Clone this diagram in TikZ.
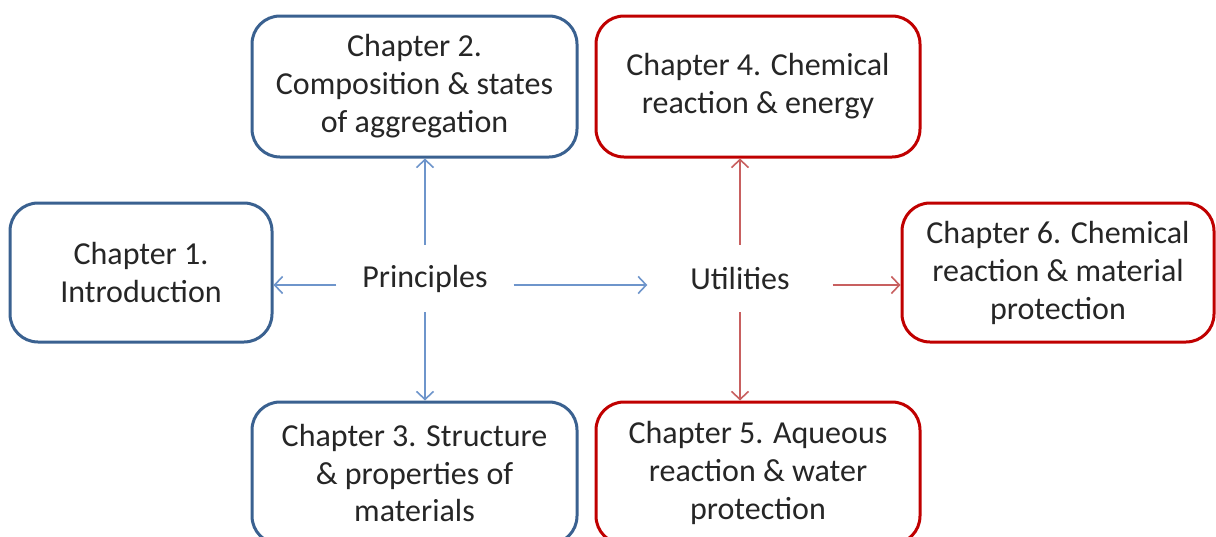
\documentclass[tikz,border=0pt]{standalone}
\usepackage{fontspec}
\setmainfont{Carlito}
\usepackage{xcolor}
\usetikzlibrary{arrows.meta}
\definecolor{boxblue}{HTML}{3A6190}
\definecolor{lineblue}{HTML}{6E95CB}
\definecolor{boxred}{HTML}{C00000}
\definecolor{linered}{HTML}{C86060}
\definecolor{txtgray}{HTML}{262626}
\tikzset{chapter/.style={draw, line width=3pt, rounded corners=28pt, fill=white,
   align=center, text=txtgray, inner sep=0pt, font=\fontsize{32}{38}\selectfont},
 bluebox/.style={chapter, draw=boxblue},
 redbox/.style={chapter, draw=boxred},
 hub/.style={text=txtgray, inner sep=0pt, minimum height=67pt,
   font=\fontsize{32}{38}\selectfont},
 bluelink/.style={draw=lineblue, line width=1.6pt,
   -{Straight Barb[length=8pt,width=17pt]}},
 redlink/.style={draw=linered, line width=1.6pt,
   -{Straight Barb[length=8pt,width=17pt]}},
 }

\begin{document}
\begin{tikzpicture}[x=1pt, y=-1pt]
        \useasboundingbox (0, 0) rectangle (1216, 536);
        \node [bluebox, minimum width=262pt, minimum height=139pt] (ch1) at (141, 272.5) {Chapter 1.\\Introduction};
        \node [bluebox, minimum width=325pt, minimum height=141pt] (ch2) at (414.5, 86.5) {Chapter 2.\\Composition \& states\\of aggregation};
        \node [bluebox, minimum width=325pt, minimum height=142pt] (ch3) at (414.5, 473) {Chapter 3. Structure\\\& properties of\\materials};
        \node [redbox, minimum width=324pt, minimum height=141pt] (ch4) at (758, 86.5) {Chapter 4. Chemical\\reaction \& energy};
        \node [redbox, minimum width=324pt, minimum height=142pt] (ch5) at (758, 473) {Chapter 5. Aqueous\\reaction \& water\\protection};
        \node [redbox, minimum width=312pt, minimum height=139pt] (ch6) at (1058, 272.5) {Chapter 6. Chemical\\reaction \& material\\protection};
        \node [hub, minimum width=177pt] (princ) at (425, 278.5) {Principles};
        \node [hub, minimum width=185pt] (util) at (740, 278.5) {Utilities};
        \draw [bluelink] ([yshift=-6.5pt]princ.west) -- ([yshift=-6.5pt]princ.west -| ch1.east);
        \draw [bluelink] (princ.north) -- (princ.north |- ch2.south);
        \draw [bluelink] (princ.south) -- (princ.south |- ch3.north);
        \draw [bluelink] ([yshift=-6.5pt]princ.east) -- ([yshift=-6.5pt]util.west);
        \draw [redlink] (util.north) -- (util.north |- ch4.south);
        \draw [redlink] (util.south) -- (util.south |- ch5.north);
        \draw [redlink] ([yshift=-6.5pt]util.east) -- ([yshift=-6.5pt]util.east -| ch6.west);
    \end{tikzpicture}
\end{document}
